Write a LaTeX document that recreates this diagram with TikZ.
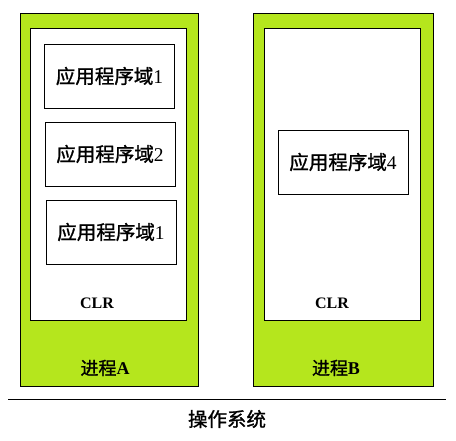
\documentclass[tikz,border=0pt]{standalone}
\usepackage{fontspec}
\setmainfont{Liberation Serif}
\newfontfamily\cjk[FakeBold=1.2]{Noto Sans CJK SC}
\definecolor{procgreen}{HTML}{B5E61D}
\tikzset{
  procbox/.style={draw=black, line width=0.9pt, fill=procgreen},
  clrbox/.style={draw=black, line width=0.9pt, fill=white},
  appbox/.style={draw=black, line width=0.9pt, fill=white, minimum width=130pt, minimum height=64pt, inner sep=0pt, font=\fontsize{19.5}{22}\selectfont},
  lbl/.style={inner sep=0pt, font=\fontsize{18}{21}\selectfont},
  oslbl/.style={inner sep=0pt, font=\fontsize{19.5}{22}\selectfont},
  clrlbl/.style={inner sep=0pt, font=\fontsize{16}{19}\selectfont\bfseries},
}
\begin{document}
\begin{tikzpicture}[x=1pt,y=-1pt]
\useasboundingbox (0,0) rectangle (456,441);
% process A
\draw[procbox] (20,13) rectangle (198,386);
\draw[clrbox] (30.5,28) rectangle (186,320);
\node[appbox] (d1) at (109.5,76) {{\cjk 应用程序域}1};
\node[appbox] (d2) at (110,154) {{\cjk 应用程序域}2};
\node[appbox] (d3) at (111,232) {{\cjk 应用程序域}1};
\node[clrlbl] (clra) at (97,303) {CLR};
\node[lbl] (pa) at (105,368) {{\cjk 进程}\textbf{A}};
% process B
\draw[procbox] (253,13) rectangle (433,386);
\draw[clrbox] (264,28) rectangle (420,320);
\node[appbox] (d4) at (343,162) {{\cjk 应用程序域}4};
\node[clrlbl] (clrb) at (332,303) {CLR};
\node[lbl] (pb) at (336,368) {{\cjk 进程}\textbf{B}};
% OS
\coordinate (l1) at (8,399);
\coordinate (l2) at (446,399);
\draw[line width=0.9pt] (l1) -- (l2);
\node[oslbl] (os) at (227,419) {\cjk 操作系统};
\end{tikzpicture}
\end{document}
